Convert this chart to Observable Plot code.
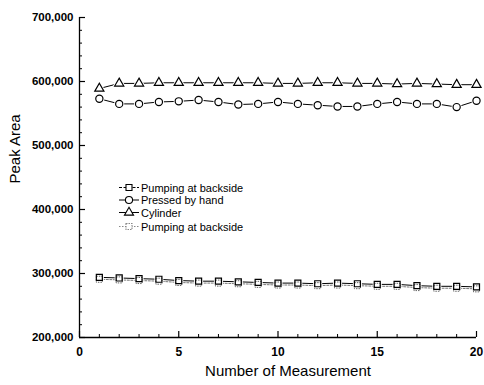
<!DOCTYPE html>
<html><head><meta charset="utf-8">
<script src="https://cdn.jsdelivr.net/npm/d3@7"></script>
<script src="https://cdn.jsdelivr.net/npm/@observablehq/plot@0.6"></script>
<style>
body{margin:0;background:#fff}
#wrap{position:relative;width:484px;height:385px;font-family:"Liberation Sans",Arial,sans-serif}
#legend{position:absolute;left:0;top:0;pointer-events:none}
</style>
</head><body><div id="wrap"></div>
<script>
const measurement = [1,2,3,4,5,6,7,8,9,10,11,12,13,14,15,16,17,18,19,20];
const cylinder   = [589,597,597,598,598,598,598,598,598,597,597,598,598,597,597,596,597,596,595,595];
const pressed    = [573,565,565,568,569,571,568,564,565,568,565,563,561,561,565,568,565,565,560,570];
const backsideA  = [294,293,292,291,289,288,288,287,286,285,285,284,285,284,283,283,281,280,280,279];
const backsideB  = [291,290,289,288,286,285,285,284,283,282,282,281,282,281,280,280,278,277,277,276];
const yMajor = [200000,300000,400000,500000,600000,700000];
const yMinor = [220000,240000,260000,280000,320000,340000,360000,380000,420000,440000,460000,480000,520000,540000,560000,580000,620000,640000,660000,680000];
const xMajor = [0,5,10,15,20];
const xMinor = [1,2,3,4,6,7,8,9,11,12,13,14,16,17,18,19];
const seriesNames = ["Pumping at backside","Pressed by hand","Cylinder","Pumping at backside"];

const mk = (vals, s) => vals.map((v,i)=>({x: measurement[i], y: v*1000, s}));
const dA = mk(backsideA, 0), dP = mk(pressed, 1), dC = mk(cylinder, 2), dB = mk(backsideB, 3);

const fmt = d3.format(",");
const font = '"Liberation Sans", Arial, sans-serif';

const chart = Plot.plot({
  width: 484, height: 385,
  marginLeft: 79, marginRight: 8, marginTop: 17, marginBottom: 48,
  style: {fontFamily: font, background: "#fff", color: "#000"},
  x: {domain: [0,20]},
  y: {domain: [200000,700000]},
  marks: [
    Plot.ruleX([0], {stroke: "#000", strokeWidth: 1.3}),
    Plot.ruleY([200000], {stroke: "#000", strokeWidth: 1.3}),
    Plot.axisY({ticks: yMajor, tickSize: 6, dx: 6, tickFormat: () => "", strokeWidth: 1.2, label: null}),
    Plot.axisY({ticks: yMinor, tickSize: 3, dx: 3, tickFormat: () => "", label: null}),
    Plot.axisY({ticks: yMajor, tickSize: 0, tickPadding: 6, tickFormat: fmt, fontSize: 11.5, fontWeight: "bold", label: null}),
    Plot.axisX({ticks: xMajor, tickSize: 6, dy: -6, tickFormat: () => "", strokeWidth: 1.2, label: null}),
    Plot.axisX({ticks: xMinor, tickSize: 3, dy: -3, tickFormat: () => "", label: null}),
    Plot.axisX({ticks: xMajor, tickSize: 0, tickPadding: 10, fontSize: 12, fontWeight: "bold", label: null}),
    Plot.text(["Number of Measurement"], {frameAnchor: "bottom", dy: 34, dx: 10, fontSize: 15, lineAnchor: "middle"}),
    Plot.text(["Peak Area"], {frameAnchor: "left", rotate: -90, dx: -64, dy: 6, fontSize: 15}),
    // lines
    Plot.line(dB, {x: "x", y: "y", stroke: "#777", strokeWidth: 1, strokeDasharray: "2,1.5"}),
    Plot.line(dA, {x: "x", y: "y", stroke: "#000", strokeWidth: 1}),
    Plot.line(dP, {x: "x", y: "y", stroke: "#000", strokeWidth: 1}),
    Plot.line(dC, {x: "x", y: "y", stroke: "#000", strokeWidth: 1}),
    // halos
    Plot.dot(dP, {x: "x", y: "y", r: 3.6, symbol: "circle", fill: "#fff", stroke: "#fff", strokeWidth: 3}),
    Plot.dot(dC, {x: "x", y: "y", r: 3.4, symbol: "triangle", fill: "#fff", stroke: "#fff", strokeWidth: 3}),
    Plot.dot(dA, {x: "x", y: "y", r: 3.4, symbol: "square", fill: "#fff", stroke: "#fff", strokeWidth: 3}),
    // markers
    Plot.dot(dB, {x: "x", y: "y", r: 3.4, symbol: "square", fill: "#fff", stroke: "#666", strokeWidth: 1, strokeDasharray: "1.5,1"}),
    Plot.dot(dA, {x: "x", y: "y", r: 3.4, symbol: "square", fill: "none", stroke: "#000", strokeWidth: 1.2}),
    Plot.dot(dP, {x: "x", y: "y", r: 3.6, symbol: "circle", fill: "#fff", stroke: "#000", strokeWidth: 1.2}),
    Plot.dot(dC, {x: "x", y: "y", r: 3.4, symbol: "triangle", fill: "#fff", stroke: "#000", strokeWidth: 1.2})
  ]
});
const wrap = document.getElementById("wrap");
wrap.appendChild(chart);

// legend overlay
const leg = d3.select(wrap).append("svg").attr("id","legend").attr("width",484).attr("height",385);
const rows = [187.5, 200, 212.5, 226.5];
const syms = [d3.symbolSquare, d3.symbolCircle, d3.symbolTriangle, d3.symbolSquare];
const sizes = [36, 40, 36, 36];
seriesNames.forEach((name,i)=>{
  const g = leg.append("g").attr("transform",`translate(0,${rows[i]})`);
  const dotted = i === 3;
  g.append("line").attr("x1",119).attr("x2",139).attr("y1",0).attr("y2",0)
    .attr("stroke", dotted ? "#888" : "#000").attr("stroke-width",1)
    .attr("stroke-dasharray", dotted ? "1.5,1.5" : (i===0 ? "3,1.5" : null));
  g.append("path").attr("d", d3.symbol(syms[i], sizes[i])()).attr("transform","translate(129,0)")
    .attr("fill","#fff").attr("stroke", dotted ? "#888" : "#000").attr("stroke-width",1.1)
    .attr("stroke-dasharray", dotted ? "1.5,1" : null);
  g.append("text").attr("x",141).attr("y",4).attr("font-size",11).attr("font-family",font)
    .attr("fill","#000").text(name);
});
</script>
</body></html>
